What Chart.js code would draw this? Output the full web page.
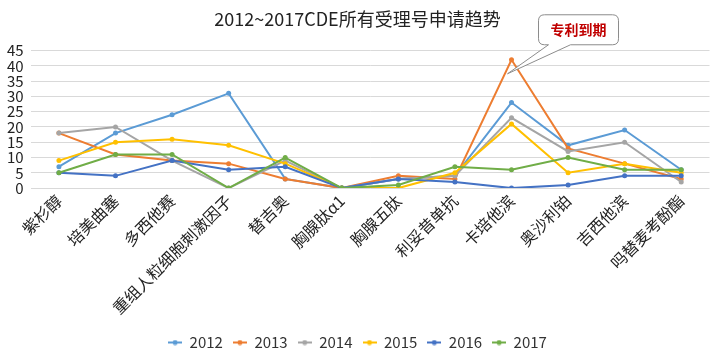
<!DOCTYPE html>
<html>
<head>
<meta charset="utf-8">
<script src="https://cdn.jsdelivr.net/npm/chart.js@4"></script>
<style>
html,body{margin:0;padding:0;background:#fff;}
#wrap{width:712px;height:358px;position:relative;}
</style>
</head>
<body>
<div id="wrap"><canvas id="c" width="712" height="358"></canvas></div>
<script>
const categories = ['紫杉醇','培美曲塞','多西他赛','重组人粒细胞刺激因子','替吉奥','胸腺肽α1','胸腺五肽','利妥昔单抗','卡培他滨','奥沙利铂','吉西他滨','吗替麦考酚酯'];
const years = ['2012','2013','2014','2015','2016','2017'];
const s2012 = [7, 18, 24, 31, 3, 0, 3, 4, 28, 14, 19, 6];
const s2013 = [18, 11, 9, 8, 3, 0, 4, 3, 42, 13, 8, 3];
const s2014 = [18, 20, 9, 0, 9, 0, 3, 4, 23, 12, 15, 2];
const s2015 = [9, 15, 16, 14, 8, 0, 0, 5, 21, 5, 8, 5];
const s2016 = [5, 4, 9, 6, 7, 0, 3, 2, 0, 1, 4, 4];
const s2017 = [5, 11, 11, 0, 10, 0, 1, 7, 6, 10, 6, 6];
const yTicks = [0,5,10,15,20,25,30,35,40,45];
const calloutText = '专利到期';
const calloutCategory = '卡培他滨';
const calloutValue = 42;

const seriesList = [s2012, s2013, s2014, s2015, s2016, s2017];
const colors = ['#5B9BD5','#ED7D31','#A5A5A5','#FFC000','#4472C4','#70AD47'];
const FONT = '"Noto Sans CJK SC", "Noto Sans", sans-serif';

function legendIcon(color){
  const cv = document.createElement('canvas');
  cv.width = 14; cv.height = 6;
  const g = cv.getContext('2d');
  g.strokeStyle = color; g.lineWidth = 2;
  g.beginPath(); g.moveTo(0,3); g.lineTo(14,3); g.stroke();
  g.fillStyle = color;
  g.beginPath(); g.arc(7,3,2.5,0,Math.PI*2); g.fill();
  return cv;
}
const icons = colors.map(legendIcon);

const calloutPlugin = {
  id: 'callout',
  afterDatasetsDraw(chart){
    const {ctx, scales} = chart;
    const px = scales.x.getPixelForValue(categories.indexOf(calloutCategory));
    const py = scales.y.getPixelForValue(calloutValue);
    const tipX = px - 4, tipY = py + 14;
    const bx = px + 27, by = py - 45, bw = 80, bh = 30, r = 6;
    ctx.save();
    ctx.beginPath();
    ctx.moveTo(bx + r, by);
    ctx.lineTo(bx + bw - r, by);
    ctx.quadraticCurveTo(bx + bw, by, bx + bw, by + r);
    ctx.lineTo(bx + bw, by + bh - r);
    ctx.quadraticCurveTo(bx + bw, by + bh, bx + bw - r, by + bh);
    ctx.lineTo(bx + 32, by + bh);
    ctx.lineTo(tipX, tipY);
    ctx.lineTo(bx + 10, by + bh);
    ctx.lineTo(bx + r, by + bh);
    ctx.quadraticCurveTo(bx, by + bh, bx, by + bh - r);
    ctx.lineTo(bx, by + r);
    ctx.quadraticCurveTo(bx, by, bx + r, by);
    ctx.closePath();
    ctx.fillStyle = '#ffffff';
    ctx.fill();
    ctx.strokeStyle = '#8c8c8c';
    ctx.lineWidth = 1;
    ctx.stroke();
    ctx.fillStyle = '#C00000';
    ctx.font = 'bold 14px ' + FONT;
    ctx.textAlign = 'center';
    ctx.textBaseline = 'middle';
    ctx.fillText(calloutText, bx + bw/2, by + bh/2);
    ctx.restore();
  }
};

new Chart(document.getElementById('c'), {
  type: 'line',
  data: {
    labels: categories,
    datasets: years.map((y, i) => ({
      label: y,
      data: seriesList[i],
      borderColor: colors[i],
      backgroundColor: colors[i],
      borderWidth: 2,
      pointRadius: 2.5,
      pointHoverRadius: 2.5,
      pointBorderWidth: 0,
      tension: 0,
      order: 6 - i
    }))
  },
  options: {
    responsive: false,
    animation: false,
    layout: { padding: { left: 0, right: -3, top: 0, bottom: -2 } },
    plugins: {
      title: {
        display: true,
        text: '2012~2017CDE所有受理号申请趋势',
        color: '#222',
        font: { family: FONT, size: 18, weight: 'normal' },
        padding: { top: 8, bottom: 21 }
      },
      legend: {
        position: 'bottom',
        title: { display: true, text: '', font: { size: 1 }, padding: { top: 0, bottom: 3 } },
        labels: {
          usePointStyle: true,
          pointStyleWidth: 14,
          color: '#333',
          font: { family: FONT, size: 15 },
          padding: 10,
          generateLabels(chart){
            return chart.data.datasets.map((ds, i) => ({
              text: ds.label,
              pointStyle: icons[i],
              fillStyle: colors[i],
              strokeStyle: colors[i],
              lineWidth: 0,
              hidden: false,
              datasetIndex: i,
              fontColor: '#333'
            }));
          }
        }
      },
      tooltip: { enabled: false }
    },
    scales: {
      x: {
        offset: true,
        grid: { display: false, offset: true, drawTicks: false },
        border: { display: false },
        ticks: {
          color: '#222',
          font: { family: FONT, size: 16 },
          minRotation: 45,
          maxRotation: 45,
          autoSkip: false,
          padding: 3
        }
      },
      y: {
        min: 0,
        max: 45,
        afterBuildTicks(axis){ axis.ticks = yTicks.map(v => ({ value: v })); },
        grid: { color: '#D9D9D9', lineWidth: 1, drawTicks: false },
        border: { display: false },
        ticks: {
          autoSkip: false,
          color: '#222',
          font: { family: FONT, size: 15 },
          padding: 7
        }
      }
    }
  },
  plugins: [calloutPlugin]
});
</script>
</body>
</html>
